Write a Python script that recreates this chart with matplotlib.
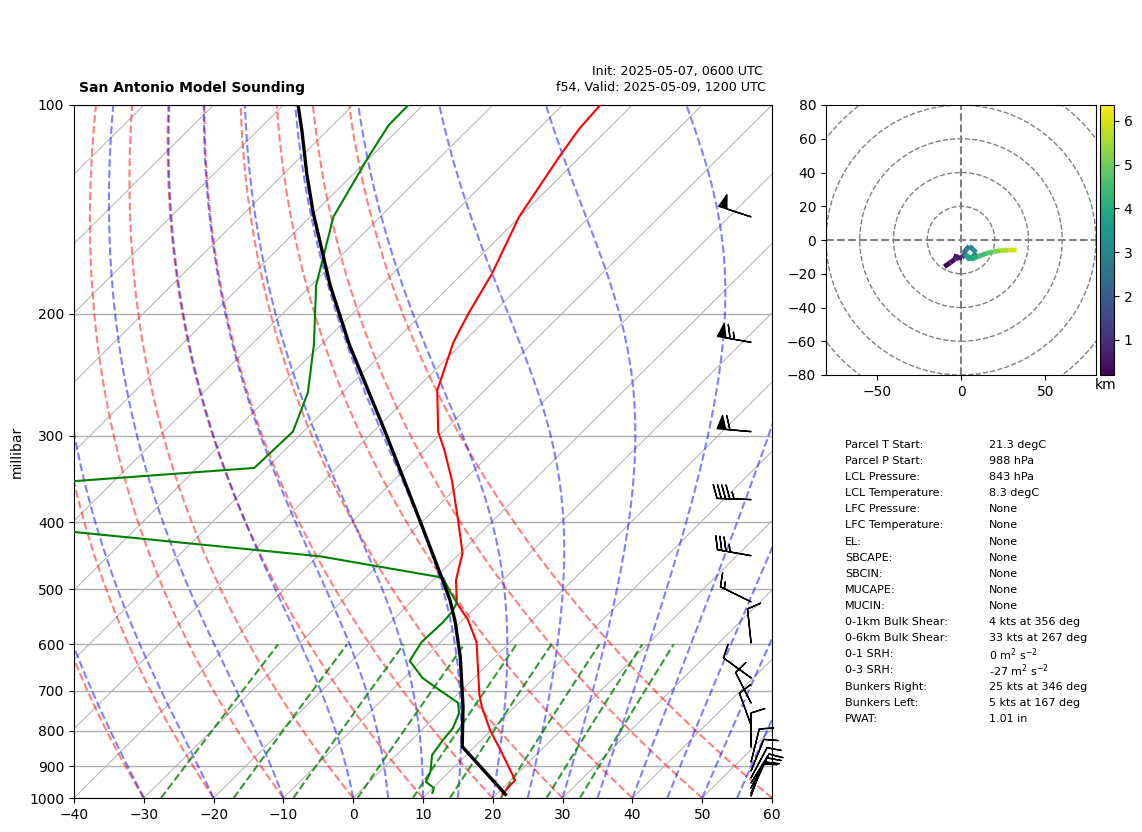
import matplotlib
matplotlib.use('Agg')
import matplotlib.pyplot as plt
import numpy as np
from matplotlib.collections import LineCollection
from matplotlib.patches import Circle

# Sounding values
temp_p = [987, 942, 853, 798, 739, 710, 596, 553, 523, 485, 443, 397, 348, 315, 296, 258, 220, 201, 175, 145, 118, 108, 100]
temp_c = [20.8, 20.6, 14.2, 9.8, 5.3, 3.2, -4.8, -9.3, -13.3, -16.7, -19.7, -25.1, -31.7, -37.1, -40.7, -46.8, -51.4,
          -53.3, -55.8, -60.1, -63.1, -64.2, -64.6]
dewp_p = [983, 967, 948, 917, 867, 825, 793, 754, 729, 694, 671, 634, 596, 559, 539, 523, 498, 481, 448, 410, 351, 334,
          296, 260, 222, 182, 145, 119, 107, 100]
dewp_c = [10.6, 10.1, 8.1, 7.3, 5.1, 4.5, 4.2, 2.9, 1.3, -3.9, -7.4, -11.7, -12.7, -12.5, -12.7, -13.3, -16.7, -18.9,
          -39.6, -82.1, -88.9, -61.8, -61.5, -65.0, -71.0, -79.3, -86.7, -90.3, -92.0, -92.1]
parcel_p = [988, 843, 739, 626, 557, 518, 485, 397, 296, 222, 182, 143, 126, 109, 100]
parcel_c = [21.3, 8.2, 2.6, -5.0, -10.8, -14.7, -18.6, -30.6, -48.3, -65.9, -77.3, -90.2, -96.6, -103.6, -107.9]

# Wind barbs
barb_p = [145, 220, 296, 371, 447, 521, 597, 671, 729, 785, 844, 887, 914, 935, 951, 967, 984, 993]
barb_speed = [50, 65, 60, 45, 35, 15, 10, 10, 10, 10, 10, 10, 10, 10, 10, 10, 10, 10]
barb_dir = [288, 280, 275, 272, 280, 296, 354, 306, 333, 340, 0, 14, 22, 28, 32, 28, 24, 20]

# Hodograph trace
hodo_u = [-9.9, -6.5, -3.6, -2.5, -3.2, 0.4, 2.4, 1.4, 3.2, 4.9, 7.0, 8.9, 7.2, 5.3, 3.8, 2.4, 6.3, 10.5, 15.2, 19.0, 23.1, 28.0, 33.0]
hodo_v = [-15.8, -13.5, -11.4, -8.5, -11.0, -10.3, -8.5, -7.9, -5.6, -3.6, -5.4, -7.5, -9.8, -11.8, -10.0, -8.5, -11.4, -9.6, -7.9, -7.0, -6.3, -6.0, -5.9]
hodo_z = [0.2, 0.3, 0.4, 0.5, 0.6, 0.9, 1.6, 2.4, 2.7, 2.9, 3.1, 3.3, 3.5, 3.6, 3.7, 3.8, 4.1, 4.4, 4.8, 5.2, 5.6, 5.9, 6.36]

# Stats table
stat_names = ['Parcel T Start:', 'Parcel P Start:', 'LCL Pressure:', 'LCL Temperature:', 'LFC Pressure:',
              'LFC Temperature:', 'EL:', 'SBCAPE:', 'SBCIN:', 'MUCAPE:', 'MUCIN:', '0-1km Bulk Shear:',
              '0-6km Bulk Shear:', '0-1 SRH:', '0-3 SRH:', 'Bunkers Right:', 'Bunkers Left:', 'PWAT:']
stat_values = ['21.3 degC', '988 hPa', '843 hPa', '8.3 degC', 'None', 'None', 'None', 'None', 'None', 'None', 'None',
               '4 kts at 356 deg', '33 kts at 267 deg', r'0 m$^2$ s$^{-2}$', r'-27 m$^2$ s$^{-2}$',
               '25 kts at 346 deg', '5 kts at 167 deg', '1.01 in']

# Background line levels
dry_t0 = np.arange(-30, 61, 10)
moist_t0 = [-30, -20, -10, 0, 5, 10, 15, 20, 25, 30, 35, 40, 45, 50, 55, 60]
mix_w = [0.0004, 0.001, 0.002, 0.004, 0.007, 0.01, 0.016, 0.024, 0.032]

W, H = 1142, 832
SKEW = 100.0  # degrees of x shift per decade of pressure


def skew_x(t, p):
    return np.asarray(t) + SKEW * np.log10(1000.0 / np.asarray(p))


def moist_slope(T, p):
    Rd, cp, Lv, eps = 287.05, 1005.7, 2.501e6, 0.622
    es = 6.112 * np.exp(17.67 * (T - 273.15) / (T - 29.65))
    rs = eps * es / (p - es)
    return (Rd * T + Lv * rs) / (cp + Lv ** 2 * rs * eps / (Rd * T ** 2)) / p


def moist_lapse(t0, p):
    # midpoint integration of the pseudoadiabat from 1000 hPa
    out = [t0 + 273.15]
    for i in range(1, len(p)):
        dp = p[i] - p[i - 1]
        T = out[-1]
        Tm = T + 0.5 * dp * moist_slope(T, p[i - 1])
        out.append(T + dp * moist_slope(Tm, p[i - 1] + 0.5 * dp))
    return np.array(out) - 273.15


def px_axes(x0, y0, x1, y1):
    return [x0 / W, 1 - y1 / H, (x1 - x0) / W, (y1 - y0) / H]


fig = plt.figure(figsize=(11.42, 8.32), dpi=100)
ax = fig.add_axes(px_axes(74, 105, 772, 798))
ax.set_yscale('log')
ax.set_xlim(-40, 60)
ax.set_ylim(1000, 100)

# isotherms and isobars
for t in np.arange(-150, 61, 10):
    ax.plot(skew_x([t, t], [1000, 100]), [1000, 100], color='#b0b0b0', lw=0.7, zorder=1)
ax.set_yticks(np.arange(100, 1001, 100))
ax.set_yticklabels([str(v) for v in range(100, 1001, 100)])
ax.minorticks_off()
ax.yaxis.grid(True, color='#b0b0b0', lw=1, zorder=1)
ax.set_xticks(np.arange(-40, 61, 10))
ax.set_ylabel('millibar', labelpad=4)

# dry adiabats, moist adiabats, mixing lines
p_lev = np.linspace(1000, 100, 200)
for t0 in dry_t0:
    t = (t0 + 273.15) * (p_lev / 1000.0) ** 0.2857 - 273.15
    ax.plot(skew_x(t, p_lev), p_lev, color='r', alpha=0.5, lw=1.5, ls='--', zorder=2)
for t0 in moist_t0:
    t = moist_lapse(t0, p_lev)
    ax.plot(skew_x(t, p_lev), p_lev, color='b', alpha=0.5, lw=1.5, ls='--', zorder=2)
p_mix = np.linspace(1000, 600, 30)
for w in mix_w:
    e = p_mix * w / (0.622 + w)
    td = 243.5 * np.log(e / 6.112) / (17.67 - np.log(e / 6.112))
    ax.plot(skew_x(td, p_mix), p_mix, color='g', alpha=0.8, lw=1.5, ls='--', zorder=2)

# sounding
ax.plot(skew_x(temp_c, temp_p), temp_p, color='r', lw=1.5, zorder=4)
ax.plot(skew_x(dewp_c, dewp_p), dewp_p, color='g', lw=1.5, zorder=4)
ax.plot(skew_x(parcel_c, parcel_p), parcel_p, color='k', lw=2.4, zorder=5)

# barbs
rad = np.deg2rad(barb_dir)
barb_u = -np.array(barb_speed) * np.sin(rad)
barb_v = -np.array(barb_speed) * np.cos(rad)
ax.barbs(np.full(len(barb_p), 0.97), barb_p, barb_u, barb_v, transform=ax.get_yaxis_transform(),
         clip_on=False, zorder=6, linewidth=1)

# titles
fig.text(79 / W, 1 - 88 / H, 'San Antonio Model Sounding', fontsize=10, fontweight='bold', va='center')
fig.text(592 / W, 1 - 71 / H, 'Init: 2025-05-07, 0600 UTC', fontsize=9.1, va='center')
fig.text(556 / W, 1 - 88 / H, 'f54, Valid: 2025-05-09, 1200 UTC', fontsize=9.1, va='center')

# hodograph
ax_hod = fig.add_axes(px_axes(826, 105, 1096, 375))
ax_hod.set_xlim(-80, 80)
ax_hod.set_ylim(-80, 80)
for r in range(20, 121, 20):
    ax_hod.add_patch(Circle((0, 0), r, fill=False, color='gray', ls='--', lw=1))
ax_hod.axhline(0, color='gray', ls='--', lw=1.5)
ax_hod.axvline(0, color='gray', ls='--', lw=1.5)
ax_hod.set_xticks([-50, 0, 50])
ax_hod.set_yticks(np.arange(-80, 81, 20))

pts = np.column_stack([hodo_u, hodo_v]).reshape(-1, 1, 2)
segs = np.concatenate([pts[:-1], pts[1:]], axis=1)
lc = LineCollection(segs, cmap='viridis', norm=plt.Normalize(0.2, 6.36), linewidths=3.5, zorder=4)
lc.set_array(np.array(hodo_z[:-1]))
ax_hod.add_collection(lc)

cax = fig.add_axes(px_axes(1100, 105, 1114, 375))
cb = fig.colorbar(lc, cax=cax, ticks=[1, 2, 3, 4, 5, 6])
fig.text(1106 / W, 1 - 385 / H, 'km', ha='center', va='center', fontsize=10)

# stats table
for i, (name, value) in enumerate(zip(stat_names, stat_values)):
    y = 1 - (445 + i * 16.1) / H
    fig.text(845 / W, y, name, fontsize=8, va='center')
    fig.text(989 / W, y, value, fontsize=8, va='center')

fig.savefig('out.png', dpi=100)
